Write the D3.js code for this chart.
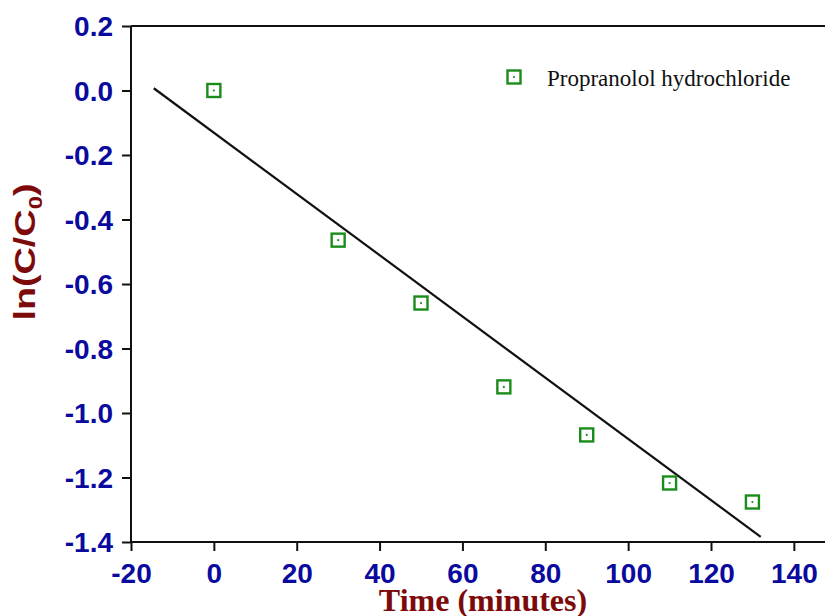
<!DOCTYPE html>
<html><head><meta charset="utf-8">
<script src="https://cdn.jsdelivr.net/npm/d3@7"></script>
<style>body{margin:0;background:#fff}svg{display:block}</style>
</head><body>
<svg id="c" width="825" height="616"></svg>
<script>
const timeMin = [0, 30, 50, 70, 90, 110, 130];
const lnCC0 = [0.0, -0.464, -0.659, -0.919, -1.068, -1.217, -1.276];
const fitX = [-14.5, 132];
const fitY = [0.007, -1.384];
const xTicks = [-20, 0, 20, 40, 60, 80, 100, 120, 140];
const yTicks = [0.2, 0.0, -0.2, -0.4, -0.6, -0.8, -1.0, -1.2, -1.4];
const seriesName = "Propranolol hydrochloride";

const svg = d3.select("#c");
const L = 131, T = 26, B = 542;
const x = d3.scaleLinear().domain([-20, 140]).range([L, L + 160 * 580 / 140]);
const y = d3.scaleLinear().domain([-1.4, 0.2]).range([B, T]);
const R = 830;
const blue = "#0a0a9e", red = "#7d0a0a", green = "#1a8c1a";
const sans = "Liberation Sans, Arial, sans-serif";
const serif = "Liberation Serif, Times New Roman, serif";

// frame top line
svg.append("line").attr("x1", L).attr("x2", R).attr("y1", T).attr("y2", T)
  .attr("stroke", "#111").attr("stroke-width", 2);

const xa = svg.append("g").attr("transform", `translate(0,${B})`)
  .call(d3.axisBottom(x).tickValues(xTicks).tickSize(9).tickFormat(d => String(d)));
xa.select(".domain").remove();
xa.append("line").attr("x1", L).attr("x2", R).attr("stroke", "#111").attr("stroke-width", 2);
const ya = svg.append("g").attr("transform", `translate(${L},0)`)
  .call(d3.axisLeft(y).tickValues(yTicks).tickSize(9).tickPadding(9)
    .tickFormat(d => d3.format(".1f")(d).replace("\u2212", "-")));
ya.select(".domain").attr("stroke", "#111").attr("stroke-width", 2).attr("d", `M0,${T}V${B}`);
[xa, ya].forEach(a => {
  a.selectAll(".tick line").attr("stroke", "#111").attr("stroke-width", 2);
  a.selectAll(".tick text").attr("fill", blue).attr("font-family", sans)
    .attr("font-weight", "bold").attr("font-size", 28);
});
xa.selectAll(".tick text").attr("y", 41).attr("dy", 0);
ya.selectAll(".tick text").attr("dy", "0.35em");

// fit line
svg.append("line").attr("x1", x(fitX[0])).attr("y1", y(fitY[0])).attr("x2", x(fitX[1])).attr("y2", y(fitY[1]))
  .attr("stroke", "#111").attr("stroke-width", 2.2);

// markers
function marker(g, cx, cy) {
  g.append("rect").attr("x", cx - 6.5).attr("y", cy - 6.5).attr("width", 13).attr("height", 13)
    .attr("fill", "none").attr("stroke", green).attr("stroke-width", 2.4);
  g.append("circle").attr("cx", cx).attr("cy", cy).attr("r", 1.1).attr("fill", green);
}
const pts = svg.append("g");
timeMin.forEach((t, i) => marker(pts, x(t), y(lnCC0[i])));

// legend
const lg = svg.append("g");
marker(lg, 514, 77);
lg.append("text").attr("x", 547).attr("y", 86).text(seriesName)
  .attr("font-family", serif).attr("font-size", 23).attr("fill", "#111");

// axis titles
svg.append("text").attr("x", 483).attr("y", 611).attr("text-anchor", "middle")
  .attr("font-family", serif).attr("font-weight", "bold")
  .attr("font-size", 32).attr("fill", red).text("Time (minutes)");
const yl = svg.append("text").attr("transform", "translate(35,252) rotate(-90) scale(1.26,1)")
  .attr("text-anchor", "middle")
  .attr("font-family", sans).attr("font-weight", "bold")
  .attr("font-size", 30).attr("fill", red);
yl.append("tspan").text("ln(C/C");
yl.append("tspan").attr("font-size", 19).attr("dy", 7).text("0");
yl.append("tspan").attr("dy", -7).text(")");
</script>
</body></html>
